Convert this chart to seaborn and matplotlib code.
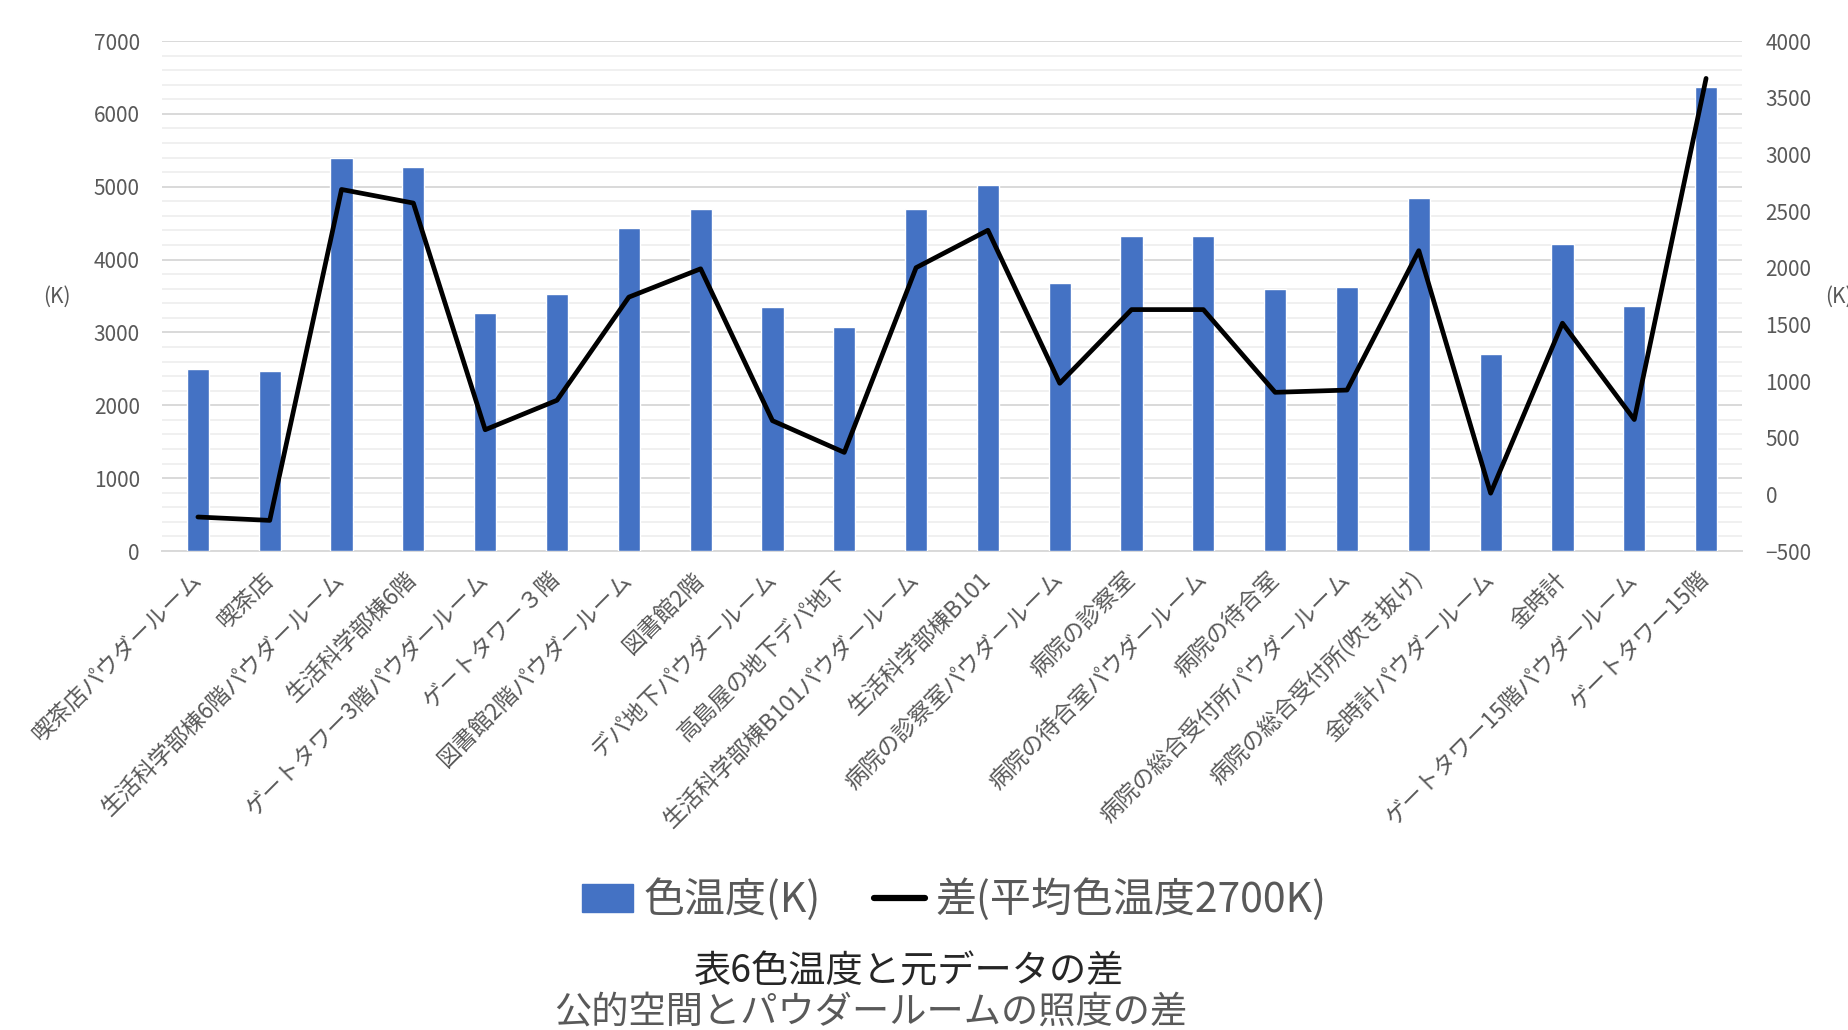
import matplotlib
matplotlib.use("Agg")
import matplotlib.pyplot as plt
import seaborn as sns
import numpy as np
import pandas as pd
from matplotlib.patches import Patch
from matplotlib.lines import Line2D
from matplotlib.ticker import MultipleLocator

categories = [
    "喫茶店パウダールーム", "喫茶店", "生活科学部棟6階パウダールーム", "生活科学部棟6階",
    "ゲートタワー3階パウダールーム", "ゲートタワー３階", "図書館2階パウダールーム", "図書館2階",
    "デパ地下パウダールーム", "高島屋の地下デパ地下", "生活科学部棟B101パウダールーム", "生活科学部棟B101",
    "病院の診察室パウダールーム", "病院の診察室", "病院の待合室パウダールーム", "病院の待合室",
    "病院の総合受付所パウダールーム", "病院の総合受付所(吹き抜け)", "金時計パウダールーム", "金時計",
    "ゲートタワー15階パウダールーム", "ゲートタワー15階",
]
color_temp = [2500, 2470, 5390, 5270, 3270, 3530, 4440, 4690, 3350, 3070, 4700,
              5030, 3680, 4330, 4330, 3600, 3620, 4850, 2710, 4210, 3360, 6370]
diff = [-200, -230, 2690, 2570, 570, 830, 1740, 1990, 650, 370, 2000,
        2330, 980, 1630, 1630, 900, 920, 2150, 10, 1510, 660, 3670]

bar_label = "色温度(K)"
line_label = "差(平均色温度2700K)"
title = "表6色温度と元データの差"
subtitle = "公的空間とパウダールームの照度の差"

sns.set_theme(style="white")
plt.rcParams["font.family"] = ["Noto Sans CJK JP", "DejaVu Sans"]

W, H = 1849, 1030
fig = plt.figure(figsize=(W / 100, H / 100), dpi=100)
ax = fig.add_axes([162 / W, 1 - 551 / H, (1742 - 162) / W, (551 - 41) / H])
ax2 = ax.twinx()

df = pd.DataFrame({"cat": categories, "val": color_temp, "diff": diff,
                   "idx": np.arange(len(categories))})

blue = "#4472C4"
grey = "#595959"
sns.barplot(data=df, x="cat", y="val", color=blue, saturation=1, width=0.31, ax=ax, zorder=3)
sns.lineplot(data=df, x="idx", y="diff", color="black", linewidth=3.4, ax=ax2, zorder=4)

ax.set_xlim(-0.5, len(categories) - 0.5)
ax.set_ylim(0, 7000)
ax2.set_ylim(-500, 4000)
ax.yaxis.set_major_locator(MultipleLocator(1000))
ax.yaxis.set_minor_locator(MultipleLocator(200))
ax2.yaxis.set_major_locator(MultipleLocator(500))

ax.grid(True, which="major", axis="y", color="#d9d9d9", linewidth=1.4, zorder=0)
ax.grid(True, which="minor", axis="y", color="#f0f0f0", linewidth=1.4, zorder=0)
ax.set_axisbelow(True)
for a in (ax, ax2):
    for s in a.spines.values():
        s.set_visible(False)
    a.set_xlabel("")
    a.set_ylabel("")
ax.spines["bottom"].set_visible(True)
ax.spines["bottom"].set_color("#d9d9d9")
ax.spines["bottom"].set_linewidth(1.4)

ax.tick_params(axis="y", which="both", length=0, labelsize=15, labelcolor=grey, pad=16)
ax2.tick_params(axis="y", which="both", length=0, labelsize=15, labelcolor=grey, pad=17)
ax.tick_params(axis="x", length=0, labelsize=16.5, labelcolor=grey, pad=18)
ax2.tick_params(axis="x", length=0)
ax.set_xticks(range(len(categories)))
ax.set_xticklabels(categories, rotation=45, ha="right", va="center", rotation_mode="anchor")

fig.text(57 / W, 1 - 297 / H, "(K)", fontsize=15, color=grey, ha="center", va="center")
fig.text(1825 / W, 1 - 297 / H, "(K)", fontsize=15, color=grey, ha="left", va="center")

handles = [Patch(facecolor=blue, edgecolor=blue),
           Line2D([0], [0], color="black", linewidth=4.5)]
fig.legend(handles, [bar_label, line_label], loc="center", ncol=2,
           bbox_to_anchor=(954 / W, 1 - 900 / H), frameon=False, fontsize=29.5,
           handlelength=1.25, handleheight=0.65, handletextpad=0.25, columnspacing=1.3,
           labelcolor=grey)

fig.text(909 / W, 1 - 972 / H, title, fontsize=26.8, color="#262626", ha="center", va="center")
fig.text(871 / W, 1 - 1012 / H, subtitle, fontsize=26.8, color=grey, ha="center", va="center")

fig.savefig("out.png", dpi=100)
